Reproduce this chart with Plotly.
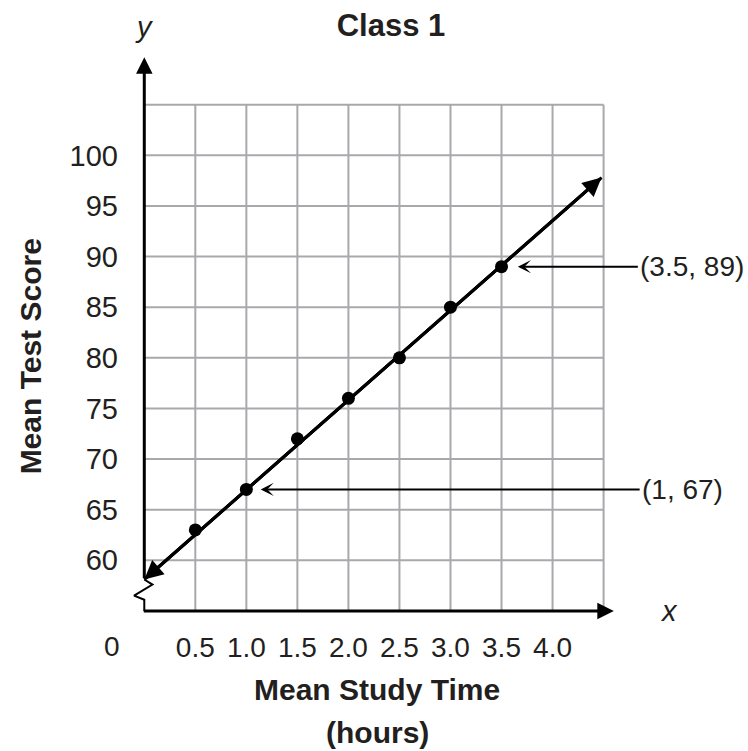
import plotly.graph_objects as go

# ---- data ----
study_time = [0.5, 1.0, 1.5, 2.0, 2.5, 3.0, 3.5]
test_score = [63, 67, 72, 76, 80, 85, 89]

trend_x = [0.0, 4.48]
trend_y = [58.1, 97.8]

x_tick_vals = [0.5, 1.0, 1.5, 2.0, 2.5, 3.0, 3.5, 4.0]
x_tick_text = ["0.5", "1.0", "1.5", "2.0", "2.5", "3.0", "3.5", "4.0"]
y_tick_vals = [60, 65, 70, 75, 80, 85, 90, 95, 100]
y_tick_text = ["60", "65", "70", "75", "80", "85", "90", "95", "100"]

grid_x = [0.5, 1.0, 1.5, 2.0, 2.5, 3.0, 3.5, 4.0, 4.5]
grid_y = [60, 65, 70, 75, 80, 85, 90, 95, 100, 105]

break_x = [0, 0.08, -0.1, 0, 0]
break_y = [58.1, 57.6, 56.5, 56.1, 55]

callout_labels = ["(3.5, 89)", "(1, 67)"]
callout_x = [3.66, 1.14]
callout_y = [89, 67]
callout_ax = [120, 379]

FONT = "Liberation Sans, Arial, Helvetica, sans-serif"
GRID = "#a9a9ad"
TXT = "#231f20"

fig = go.Figure()

# grid
shapes = []
for gx in grid_x:
    shapes.append(dict(type="line", xref="x", yref="y", x0=gx, x1=gx, y0=55, y1=105,
                       line=dict(color=GRID, width=2), layer="below"))
for gy in grid_y:
    shapes.append(dict(type="line", xref="x", yref="y", x0=0, x1=4.5, y0=gy, y1=gy,
                       line=dict(color=GRID, width=2), layer="below"))

# axis break zigzag
fig.add_trace(go.Scatter(x=break_x, y=break_y, mode="lines",
                         line=dict(color="black", width=2), hoverinfo="skip",
                         showlegend=False, cliponaxis=False))

# trend line
fig.add_trace(go.Scatter(x=trend_x, y=trend_y, mode="lines",
                         line=dict(color="black", width=3), hoverinfo="skip",
                         showlegend=False, cliponaxis=False))

# data points
fig.add_trace(go.Scatter(x=study_time, y=test_score, mode="markers",
                         marker=dict(color="black", size=13), showlegend=False,
                         cliponaxis=False))

annotations = []
# axes with arrows
annotations.append(dict(x=0, y=109.7, ax=0, ay=58.1, xref="x", yref="y", axref="x", ayref="y",
                        text="", showarrow=True, arrowhead=2, arrowwidth=3, arrowsize=1.1,
                        arrowcolor="black", standoff=0))
annotations.append(dict(x=4.6, y=55, ax=-0.02, ay=55, xref="x", yref="y", axref="x", ayref="y",
                        text="", showarrow=True, arrowhead=2, arrowwidth=3, arrowsize=1.1,
                        arrowcolor="black", standoff=0))
# trend line arrowheads
annotations.append(dict(x=trend_x[1], y=trend_y[1], ax=trend_x[0], ay=trend_y[0],
                        xref="x", yref="y", axref="x", ayref="y",
                        text="", showarrow=True, arrowhead=2, arrowwidth=3, arrowsize=1.25,
                        arrowcolor="black", standoff=0))
annotations.append(dict(x=trend_x[0], y=trend_y[0], ax=trend_x[1], ay=trend_y[1],
                        xref="x", yref="y", axref="x", ayref="y",
                        text="", showarrow=True, arrowhead=2, arrowwidth=3, arrowsize=1.25,
                        arrowcolor="black", standoff=0))
# callouts
for lab, cx, cy, cax in zip(callout_labels, callout_x, callout_y, callout_ax):
    annotations.append(dict(x=cx, y=cy, ax=cax, ay=0, xref="x", yref="y",
                            text=lab, showarrow=True, arrowhead=3, arrowwidth=2,
                            arrowsize=1.1, arrowcolor="black", standoff=0,
                            xanchor="left", yanchor="middle",
                            font=dict(family=FONT, size=28, color=TXT)))
# axis letters
annotations.append(dict(x=0, y=1.0295, xref="x", yref="paper", text="<i>y</i>",
                        showarrow=False, xanchor="center", yanchor="middle",
                        font=dict(family=FONT, size=29, color=TXT)))
annotations.append(dict(x=1.091, y=55, xref="paper", yref="y", text="<i>x</i>",
                        showarrow=False, xanchor="center", yanchor="middle",
                        font=dict(family=FONT, size=29, color=TXT)))
# origin label
annotations.append(dict(x=-0.037, y=55, xref="paper", yref="y", yshift=-36, text="0",
                        showarrow=False, xanchor="center", yanchor="middle",
                        font=dict(family=FONT, size=28, color=TXT)))
# axis titles
annotations.append(dict(x=0.5, y=-0.118, xref="paper", yref="paper", text="<b>Mean Study Time</b>",
                        showarrow=False, xanchor="center", yanchor="middle",
                        font=dict(family=FONT, size=30, color=TXT)))
annotations.append(dict(x=0.5, y=-0.194, xref="paper", yref="paper", text="<b>(hours)</b>",
                        showarrow=False, xanchor="center", yanchor="middle",
                        font=dict(family=FONT, size=30, color=TXT)))
annotations.append(dict(x=-0.202, y=0.459, xref="paper", yref="paper", text="<b>Mean Test Score</b>",
                        showarrow=False, xanchor="center", yanchor="middle", textangle=-90,
                        font=dict(family=FONT, size=30, color=TXT)))

fig.update_layout(
    width=748, height=751,
    margin=dict(l=130, r=124, t=44, b=130),
    paper_bgcolor="white", plot_bgcolor="white",
    showlegend=False,
    title=dict(text="<b>Class 1</b>", x=0.5227, y=0.967, xref="container", yref="container",
               xanchor="center", yanchor="middle",
               font=dict(family=FONT, size=31, color=TXT)),
    xaxis=dict(range=[-0.14, 4.7], showgrid=False, zeroline=False, showline=False,
               tickmode="array", tickvals=x_tick_vals, ticktext=x_tick_text, ticks="",
               ticklabelstandoff=7, fixedrange=True,
               tickfont=dict(family=FONT, size=28, color=TXT)),
    yaxis=dict(range=[54, 111], showgrid=False, zeroline=False, showline=False,
               tickmode="array", tickvals=y_tick_vals, ticktext=y_tick_text, ticks="",
               ticklabelstandoff=11, fixedrange=True,
               tickfont=dict(family=FONT, size=29, color=TXT)),
    shapes=shapes,
    annotations=annotations,
)

fig.write_html(
    "out.html",
    config={"displayModeBar": False},
    post_script="document.body.style.margin='0';document.documentElement.style.overflow='hidden';",
)
